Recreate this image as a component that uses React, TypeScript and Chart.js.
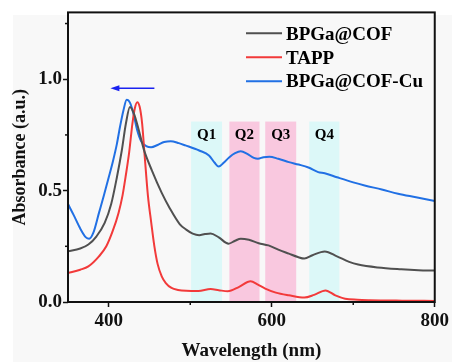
import { useEffect, useRef } from "react";
import { Chart, registerables } from "chart.js";

Chart.register(...registerables);

const FONT = "'Liberation Serif', 'Times New Roman', serif";

// ---- data ----
const seriesLabels = ["BPGa@COF", "TAPP", "BPGa@COF-Cu"];
const seriesColors = ["#505050", "#f23a3a", "#2170e4"];

const bpgaCofX = [350, 365, 375, 385, 395, 403, 410, 416, 421, 426, 431, 437, 443, 453, 465, 475, 487, 495, 503, 511, 518, 525, 535, 547, 555, 562, 572, 584, 596, 608, 621, 632, 640, 650, 665, 680, 695, 706, 730, 759, 780, 800];
const bpgaCofY = [0.228, 0.24, 0.258, 0.295, 0.355, 0.44, 0.56, 0.68, 0.8, 0.875, 0.845, 0.77, 0.685, 0.59, 0.49, 0.42, 0.35, 0.325, 0.307, 0.3, 0.305, 0.308, 0.29, 0.262, 0.275, 0.284, 0.279, 0.264, 0.254, 0.235, 0.217, 0.202, 0.195, 0.21, 0.227, 0.205, 0.18, 0.168, 0.155, 0.147, 0.143, 0.141];

const tappX = [350, 365, 375, 388, 397, 405, 412, 417, 421, 425, 429, 432, 435, 438, 441, 444, 448, 452, 456, 460, 465, 470, 477, 485, 495, 510, 525, 535, 546, 560, 574, 583, 592, 605, 621, 640, 652, 666, 678, 690, 705, 720, 760, 800];
const tappY = [0.13, 0.145, 0.16, 0.205, 0.25, 0.32, 0.4, 0.48, 0.57, 0.67, 0.8, 0.87, 0.897, 0.875, 0.8, 0.66, 0.48, 0.36, 0.25, 0.17, 0.115, 0.085, 0.063, 0.054, 0.05, 0.049, 0.058, 0.053, 0.048, 0.068, 0.093, 0.078, 0.06, 0.042, 0.03, 0.02, 0.032, 0.052, 0.03, 0.015, 0.01, 0.008, 0.006, 0.005];

const cuX = [350, 357, 365, 372, 376, 381, 388, 394, 400, 405, 410, 414, 418, 422, 426, 430, 435, 440, 446, 452, 460, 468, 476, 486, 494, 511, 523, 530, 535, 541, 548, 555, 562, 570, 578, 583, 590, 597, 608, 621, 633, 645, 657, 665, 680, 700, 714, 735, 755, 777, 800];
const cuY = [0.44, 0.39, 0.33, 0.29, 0.284, 0.31, 0.4, 0.478, 0.56, 0.63, 0.71, 0.79, 0.86, 0.908, 0.895, 0.85, 0.77, 0.72, 0.7, 0.695, 0.705, 0.718, 0.722, 0.713, 0.703, 0.68, 0.658, 0.625, 0.608, 0.625, 0.65, 0.668, 0.677, 0.665, 0.647, 0.643, 0.65, 0.652, 0.643, 0.628, 0.617, 0.604, 0.583, 0.578, 0.56, 0.537, 0.523, 0.505, 0.486, 0.47, 0.453];

const xTicks = [400, 600, 800];
const xMinorTicks = [500, 700];
const yTicks = [0, 0.5, 1.0];
const yMinorTicks = [0.25, 0.75, 1.25];

const bandLabels = ["Q1", "Q2", "Q3", "Q4"];
const bandStarts = [501, 548, 592, 646];
const bandEnds = [539, 585, 630, 683];
const bandColors = ["#dcf8f8", "#f9c8df", "#f9c8df", "#dcf8f8"];
const bandTop = 0.81;
const bandLabelY = 0.733;

const arrowFrom = 456;
const arrowTo = 402;
const arrowY = 0.96;

function App() {
  const canvasRef = useRef<HTMLCanvasElement | null>(null);

  useEffect(() => {
    const canvas = canvasRef.current;
    if (!canvas) return;

    const bgPlugin = {
      id: "bg",
      beforeDraw(chart: any) {
        const { ctx, width, height } = chart;
        ctx.save();
        ctx.fillStyle = "#ffffff";
        ctx.fillRect(0, 0, width, height);
        ctx.fillStyle = "#f8f8f8";
        ctx.fillRect(13, 15, width - 13, height - 15);
        ctx.restore();
      },
    };

    const bandsPlugin = {
      id: "bands",
      beforeDatasetsDraw(chart: any) {
        const { ctx, scales } = chart;
        const x = scales.x;
        const y = scales.y;
        ctx.save();
        const yTop = y.getPixelForValue(bandTop);
        const yBot = y.getPixelForValue(0);
        bandStarts.forEach((s, i) => {
          const x0 = x.getPixelForValue(s);
          const x1 = x.getPixelForValue(bandEnds[i]);
          ctx.fillStyle = bandColors[i];
          ctx.fillRect(x0, yTop, x1 - x0, yBot - yTop);
          ctx.fillStyle = "#000";
          ctx.font = `bold 15px ${FONT}`;
          ctx.textAlign = "center";
          ctx.textBaseline = "alphabetic";
          ctx.fillText(bandLabels[i], (x0 + x1) / 2, y.getPixelForValue(bandLabelY));
        });
        ctx.restore();
      },
    };

    const overlayPlugin = {
      id: "overlay",
      afterDraw(chart: any) {
        const { ctx, chartArea, scales } = chart;
        const x = scales.x;
        const y = scales.y;
        ctx.save();
        // frame
        ctx.strokeStyle = "#111";
        ctx.lineWidth = 2;
        ctx.strokeRect(chartArea.left, chartArea.top, chartArea.right - chartArea.left, chartArea.bottom - chartArea.top);
        // minor ticks
        ctx.lineWidth = 1.5;
        xMinorTicks.forEach((v) => {
          const px = x.getPixelForValue(v);
          ctx.beginPath();
          ctx.moveTo(px, chartArea.bottom);
          ctx.lineTo(px, chartArea.bottom + 3);
          ctx.stroke();
        });
        yMinorTicks.forEach((v) => {
          const py = y.getPixelForValue(v);
          ctx.beginPath();
          ctx.moveTo(chartArea.left - 3, py);
          ctx.lineTo(chartArea.left, py);
          ctx.stroke();
        });
        // arrow
        const ax0 = x.getPixelForValue(arrowFrom);
        const ax1 = x.getPixelForValue(arrowTo);
        const ay = y.getPixelForValue(arrowY);
        ctx.strokeStyle = "#1a22f0";
        ctx.fillStyle = "#1a22f0";
        ctx.lineWidth = 1.5;
        ctx.beginPath();
        ctx.moveTo(ax0, ay);
        ctx.lineTo(ax1 + 6, ay);
        ctx.stroke();
        ctx.beginPath();
        ctx.moveTo(ax1, ay);
        ctx.lineTo(ax1 + 9, ay - 3);
        ctx.lineTo(ax1 + 9, ay + 3);
        ctx.closePath();
        ctx.fill();
        // legend
        const lineX0 = 246;
        const lineX1 = 282;
        const textX = 286;
        const rowY = [33.3, 57.3, 81.2];
        ctx.font = `bold 19px ${FONT}`;
        ctx.textAlign = "left";
        ctx.textBaseline = "alphabetic";
        chart.data.datasets.forEach((ds: any, i: number) => {
          ctx.strokeStyle = ds.borderColor;
          ctx.lineWidth = 2;
          ctx.beginPath();
          ctx.moveTo(lineX0, rowY[i]);
          ctx.lineTo(lineX1, rowY[i]);
          ctx.stroke();
          ctx.fillStyle = "#000";
          ctx.fillText(ds.label, textX, rowY[i] + 6.2);
        });
        ctx.restore();
      },
    };

    const makeData = (xs: number[], ys: number[]) => xs.map((v, i) => ({ x: v, y: ys[i] }));

    const chart = new Chart(canvas, {
      type: "line",
      data: {
        datasets: [
          { label: seriesLabels[0], data: makeData(bpgaCofX, bpgaCofY), borderColor: seriesColors[0], borderWidth: 2, pointRadius: 0, cubicInterpolationMode: "monotone", fill: false },
          { label: seriesLabels[1], data: makeData(tappX, tappY), borderColor: seriesColors[1], borderWidth: 2, pointRadius: 0, cubicInterpolationMode: "monotone", fill: false },
          { label: seriesLabels[2], data: makeData(cuX, cuY), borderColor: seriesColors[2], borderWidth: 2, pointRadius: 0, cubicInterpolationMode: "monotone", fill: false },
        ],
      },
      options: {
        animation: false,
        responsive: true,
        maintainAspectRatio: false,
        layout: { padding: { left: 0, top: 12, right: 16, bottom: 0 } },
        plugins: {
          legend: { display: false },
          title: { display: false },
          tooltip: { enabled: false },
        },
        scales: {
          x: {
            type: "linear",
            min: 350,
            max: 800,
            afterFit(scale: any) {
              scale.height = 60;
            },
            afterBuildTicks(scale: any) {
              scale.ticks = xTicks.map((v) => ({ value: v }));
            },
            border: { display: false },
            grid: { display: true, drawOnChartArea: false, drawTicks: true, tickLength: 5, tickWidth: 1.5, tickColor: "#111" },
            ticks: {
              color: "#111",
              padding: 3,
              font: { family: FONT, size: 19, weight: "bold" },
              callback: (v: any) => String(v),
              maxRotation: 0,
            },
            title: {
              display: true,
              text: "Wavelength (nm)",
              color: "#111",
              font: { family: FONT, size: 19, weight: "bold" },
              padding: { top: 0, bottom: 0 },
            },
          },
          y: {
            type: "linear",
            min: 0,
            max: 1.3,
            afterFit(scale: any) {
              scale.width = 68;
            },
            afterBuildTicks(scale: any) {
              scale.ticks = yTicks.map((v) => ({ value: v }));
            },
            border: { display: false },
            grid: { display: true, drawOnChartArea: false, drawTicks: true, tickLength: 5, tickWidth: 1.5, tickColor: "#111" },
            ticks: {
              color: "#111",
              padding: 1,
              font: { family: FONT, size: 19, weight: "bold" },
              callback: (v: any) => Number(v).toFixed(1),
            },
            title: {
              display: true,
              text: "Absorbance (a.u.)",
              color: "#111",
              font: { family: FONT, size: 18, weight: "bold" },
              padding: { top: 10, bottom: 0 },
            },
          },
        },
      },
      plugins: [bgPlugin, bandsPlugin, overlayPlugin],
    } as any);

    return () => chart.destroy();
  }, []);

  return (
    <div style={{ position: "fixed", left: 0, top: 0, width: 452, height: 362 }}>
      <canvas ref={canvasRef} />
    </div>
  );
}

export default App;
